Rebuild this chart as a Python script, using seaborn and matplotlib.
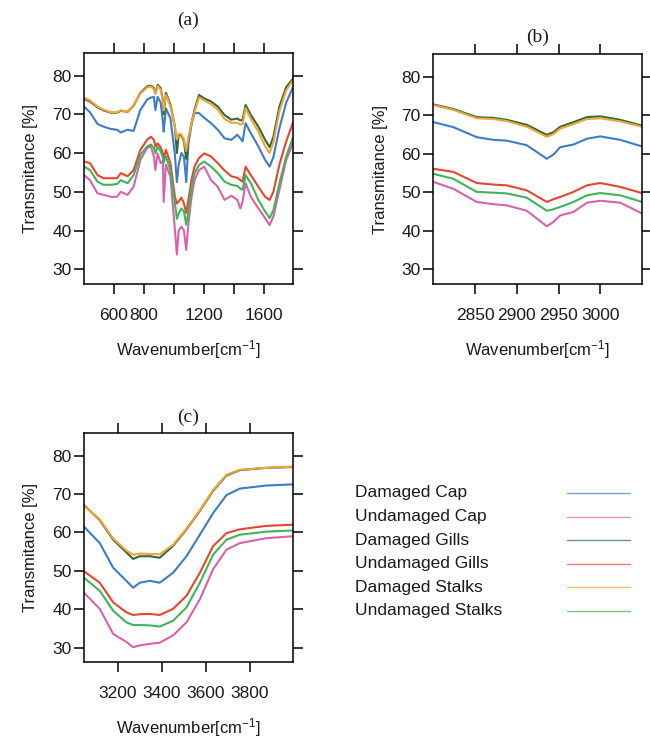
"""
FTIR spectra of damaged / undamaged mushroom tissue, three wavenumber windows.
"""
import numpy as np
import pandas as pd
import matplotlib
matplotlib.use("Agg")
import matplotlib.pyplot as plt
from matplotlib.lines import Line2D
import seaborn as sns

# ── Samples ──────────────────────────────────────────────────────────────
samples = ["Damaged Cap", "Undamaged Cap", "Damaged Gills",
           "Undamaged Gills", "Damaged Stalks", "Undamaged Stalks"]
colors = ["#3d7cc6", "#d862ac", "#2f6b35", "#e8462c", "#f2a43a", "#3db559"]

# ── (a) fingerprint region ───────────────────────────────────────────────
wn_a = [400, 440, 490, 530, 580, 620, 645, 690, 730, 775, 820, 845, 865, 875,
        890, 910, 925, 930, 945, 975, 1005, 1018, 1030, 1048, 1065, 1080, 1095,
        1115, 1135, 1165, 1200, 1245, 1290, 1335, 1380, 1420, 1440, 1455, 1475,
        1510, 1560, 1605, 1635, 1660, 1700, 1745, 1790]
a_dmg_cap = [72.0, 70.5, 67.5, 66.8, 66.2, 66.0, 65.3, 66.0, 65.7, 71.1, 73.8,
             74.3, 74.5, 71.1, 74.5, 73.0, 68.0, 65.5, 71.5, 69.0, 59.5, 52.5,
             57.0, 60.0, 59.0, 52.5, 62.5, 67.3, 70.3, 70.3, 69.1, 67.7, 66.0,
             63.8, 63.4, 64.7, 63.8, 63.0, 67.7, 65.1, 61.7, 58.2, 56.5, 59.0,
             66.4, 73.0, 77.0]
a_und_cap = [54.3, 53.0, 49.6, 49.2, 48.7, 48.7, 50.0, 49.2, 51.3, 58.2, 61.3,
             61.7, 59.1, 55.6, 59.9, 57.4, 58.0, 47.4, 57.0, 53.9, 40.1, 33.8,
             40.0, 41.0, 40.0, 35.0, 42.0, 48.5, 53.0, 55.6, 56.5, 53.0, 51.3,
             47.9, 49.0, 47.9, 45.7, 47.5, 52.2, 48.7, 45.7, 43.2, 41.4, 43.6,
             50.5, 58.2, 62.5]
a_dmg_gills = [74.0, 73.3, 71.8, 71.0, 70.4, 70.4, 70.9, 70.6, 72.2, 75.5, 77.2,
               77.4, 76.8, 75.5, 77.6, 76.8, 73.5, 70.0, 75.5, 72.5, 66.8, 60.0,
               64.7, 64.5, 63.0, 58.5, 63.5, 67.7, 71.1, 75.0, 74.1, 73.3, 72.0,
               69.8, 68.6, 68.9, 68.4, 68.6, 72.4, 69.8, 66.8, 63.4, 61.5, 64.2,
               72.0, 77.0, 79.2]
a_und_gills = [57.8, 57.4, 54.3, 53.5, 53.5, 53.5, 54.8, 54.0, 55.6, 60.8, 63.4,
               64.2, 63.4, 61.7, 62.5, 61.5, 59.9, 58.5, 60.8, 57.4, 48.7, 47.0,
               47.5, 48.5, 47.0, 44.5, 48.0, 53.0, 56.5, 58.7, 59.9, 59.1, 57.4,
               55.5, 54.0, 53.6, 53.0, 52.6, 56.5, 54.3, 51.3, 48.7, 47.9, 50.0,
               57.0, 63.0, 67.8]
a_dmg_stalks = [74.3, 73.6, 72.0, 71.2, 70.5, 70.5, 71.0, 70.6, 72.4, 75.3, 76.9,
                77.2, 76.5, 75.2, 77.3, 76.4, 73.2, 71.0, 75.0, 72.0, 66.5, 63.5,
                65.0, 64.8, 63.5, 60.5, 64.0, 67.5, 70.6, 74.3, 73.6, 72.6, 71.2,
                68.8, 67.8, 67.8, 67.4, 67.5, 71.6, 68.8, 65.5, 61.8, 60.0, 62.8,
                70.8, 76.2, 78.8]
a_und_stalks = [56.5, 55.6, 52.6, 51.8, 51.8, 52.0, 53.0, 52.2, 54.3, 59.5, 61.7,
                62.2, 61.3, 59.9, 61.7, 60.5, 58.7, 57.5, 59.1, 55.6, 47.0, 43.0,
                44.4, 45.7, 44.9, 41.5, 45.0, 51.0, 54.8, 56.9, 57.8, 56.5, 54.8,
                52.6, 51.8, 51.5, 50.8, 50.5, 54.3, 52.2, 47.9, 44.9, 43.2, 45.3,
                52.2, 59.1, 64.0]

# ── (b) C-H stretch region ───────────────────────────────────────────────
wn_b = [2800, 2824, 2852, 2872, 2888, 2912, 2936, 2944, 2952, 2968, 2984, 3000,
        3024, 3050]
b_dmg_cap = [68.2, 66.9, 64.3, 63.6, 63.4, 62.2, 58.7, 59.8, 61.7, 62.4, 63.9,
             64.5, 63.6, 61.9]
b_und_cap = [52.7, 50.9, 47.5, 46.9, 46.6, 45.2, 41.2, 42.3, 44.0, 44.9, 47.3,
             47.8, 47.3, 44.5]
b_dmg_gills = [72.8, 71.6, 69.5, 69.3, 68.8, 67.5, 64.9, 65.6, 67.0, 68.2, 69.5,
               69.7, 68.8, 67.3]
b_und_gills = [56.1, 55.3, 52.4, 52.0, 51.8, 50.5, 47.5, 48.2, 48.8, 50.1, 51.8,
               52.4, 51.4, 49.8]
b_dmg_stalks = [72.6, 71.4, 69.2, 69.0, 68.5, 67.0, 64.4, 65.1, 66.5, 67.7, 69.0,
                69.2, 68.4, 67.0]
b_und_stalks = [54.8, 53.5, 50.1, 49.9, 49.7, 48.6, 45.2, 45.6, 46.2, 47.5, 49.2,
                49.8, 49.2, 47.5]

# ── (c) O-H / N-H stretch region ─────────────────────────────────────────
wn_c = [3045, 3117, 3178, 3238, 3269, 3299, 3345, 3390, 3451, 3512, 3573, 3633,
        3694, 3755, 3876, 3995]
c_dmg_cap = [61.5, 57.2, 50.8, 47.4, 45.6, 46.9, 47.4, 46.9, 49.5, 53.8, 59.4,
             65.0, 69.7, 71.4, 72.2, 72.5]
c_und_cap = [44.3, 40.1, 33.6, 31.5, 30.1, 30.6, 31.0, 31.3, 33.2, 36.6, 42.6,
             50.4, 55.5, 57.2, 58.5, 59.0]
c_dmg_gills = [67.1, 63.2, 58.1, 54.8, 53.1, 53.8, 53.8, 53.4, 56.5, 60.8, 65.6,
               70.8, 74.8, 76.2, 76.8, 77.0]
c_und_gills = [49.9, 46.9, 41.8, 39.2, 38.5, 38.7, 38.8, 38.5, 40.1, 43.5, 49.5,
               56.4, 59.8, 60.8, 61.7, 62.0]
c_dmg_stalks = [66.9, 63.4, 58.4, 55.3, 54.2, 54.5, 54.4, 54.3, 56.8, 61.0, 65.8,
                71.0, 75.0, 76.3, 76.8, 77.1]
c_und_stalks = [48.2, 44.8, 39.6, 36.6, 35.9, 35.9, 35.8, 35.5, 37.0, 40.5, 46.9,
                54.2, 58.1, 59.4, 60.2, 60.5]

y_ticks = [30, 40, 50, 60, 70, 80]

sns.set_style("ticks")
plt.rcParams.update({
    "font.family": ["Liberation Sans", "DejaVu Sans"],
    "mathtext.fontset": "custom",
    "mathtext.rm": "Liberation Sans",
    "mathtext.it": "Liberation Sans",
    "font.size": 12,
})

TEXT = "#1a1a1a"


def to_long(wn, series):
    """Stack the six series of one panel into a long frame."""
    frames = [pd.DataFrame({"wn": wn, "T": vals, "sample": name})
              for name, vals in zip(samples, series)]
    return pd.concat(frames, ignore_index=True)


def draw_panel(ax, df, xlim, xticks, xlabels, title, title_pad):
    sns.lineplot(data=df, x="wn", y="T", hue="sample", hue_order=samples,
                 palette=colors, sort=False, estimator=None, lw=1.5,
                 legend=False, ax=ax)
    ax.set_xlim(*xlim)
    ax.set_ylim(26.2, 85.8)
    ax.set_xticks(xticks)
    ax.set_xticklabels(xlabels)
    ax.set_yticks(y_ticks)
    ax.tick_params(direction="out", length=7, width=1.1, color="black",
                   top=True, right=True, labeltop=False, labelright=False,
                   labelsize=12.5, labelcolor=TEXT)
    ax.tick_params(axis="x", pad=10)
    ax.tick_params(axis="y", pad=2)
    for sp in ax.spines.values():
        sp.set_visible(True)
        sp.set_color("black")
        sp.set_linewidth(1.1)
    ax.set_xlabel(r"Wavenumber[cm$^{-1}$]", fontsize=12, labelpad=11,
                  color=TEXT)
    ax.set_ylabel("Transmitance [%]", fontsize=12, labelpad=10, color=TEXT)
    ax.set_title(title, family="Liberation Serif", fontsize=14,
                 pad=title_pad, color=TEXT)


fig = plt.figure(figsize=(6.5, 7.47), dpi=100)
ax_a = fig.add_axes([0.1292, 0.6198, 0.3215, 0.3092])
ax_b = fig.add_axes([0.6666, 0.6198, 0.3211, 0.3075])
ax_c = fig.add_axes([0.1292, 0.1134, 0.3215, 0.3066])

draw_panel(ax_a, to_long(wn_a, [a_dmg_cap, a_und_cap, a_dmg_gills,
                                a_und_gills, a_dmg_stalks, a_und_stalks]),
           (400, 1790), [600, 800, 1000, 1200, 1400, 1600],
           ["600", "800", "", "1200", "", "1600"], "(a)", 20)
draw_panel(ax_b, to_long(wn_b, [b_dmg_cap, b_und_cap, b_dmg_gills,
                                b_und_gills, b_dmg_stalks, b_und_stalks]),
           (2800, 3050), [2850, 2900, 2950, 3000],
           ["2850", "2900", "2950", "3000"], "(b)", 9)
draw_panel(ax_c, to_long(wn_c, [c_dmg_cap, c_und_cap, c_dmg_gills,
                                c_und_gills, c_dmg_stalks, c_und_stalks]),
           (3045, 3997), [3200, 3400, 3600, 3800],
           ["3200", "3400", "3600", "3800"], "(c)", 8)

# ── Legend: label on the left, key line on the right ─────────────────────
for i, (name, col) in enumerate(zip(samples, colors)):
    y = 1 - (493 + i * 23.6) / 747
    fig.text(0.546, y, name, fontsize=12.5, va="center", ha="left",
             color=TEXT)
    fig.add_artist(Line2D([0.872, 0.969], [y, y], transform=fig.transFigure,
                          color=col, lw=1.0, alpha=0.7))

plt.savefig("out.png", dpi=100)
plt.close()
